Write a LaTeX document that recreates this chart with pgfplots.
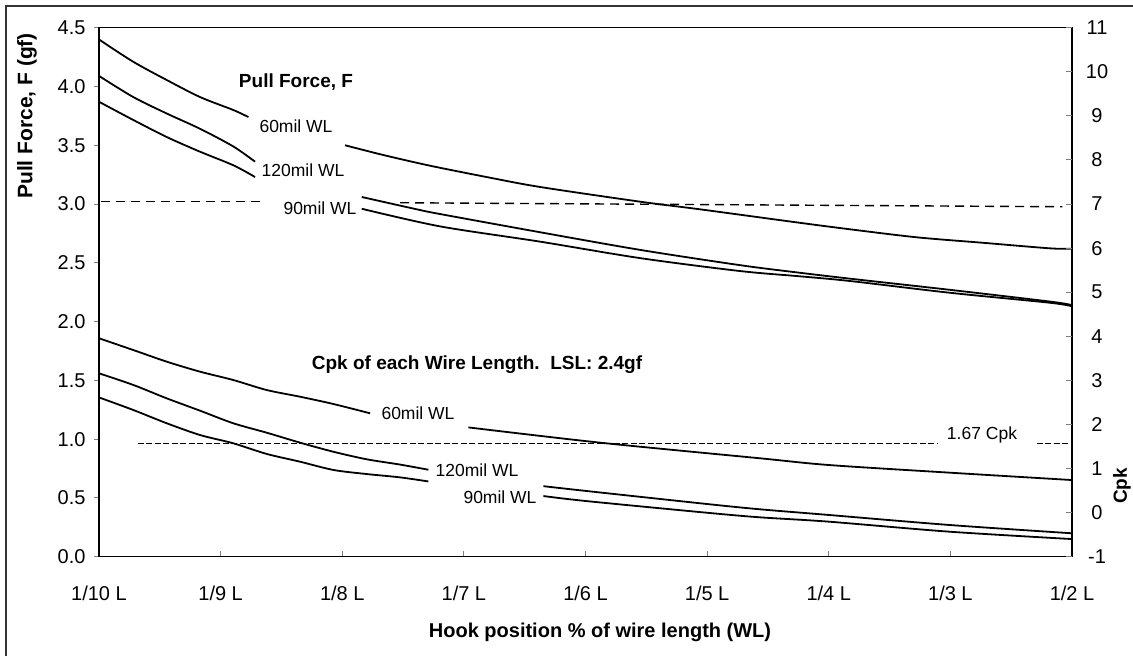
\documentclass[border=0pt]{standalone}
\usepackage{pgfplots}
\pgfplotsset{compat=1.18}
\usepackage{fontspec}
\setmainfont{Liberation Sans}
\newcommand{\tickfont}{\fontsize{20}{24}\selectfont}
\newcommand{\annfont}{\fontsize{17.5}{21}\selectfont}
\newcommand{\labfont}{\fontsize{19}{23}\selectfont\bfseries}
\newcommand{\xlabfont}{\fontsize{20}{24}\selectfont\bfseries}
\newcommand{\ylabfont}{\fontsize{21}{25}\selectfont\bfseries}
\tikzset{curve/.style={black, line width=1.8pt, mark=none, smooth, tension=0.5}}
\begin{document}
\begin{tikzpicture}
\useasboundingbox (0pt,0pt) rectangle (1133pt,-656pt);
\fill[white] (0pt,0pt) rectangle (1133pt,-656pt);
\draw[line width=1.5pt, black!80] (6pt,-700pt) -- (6pt,-6pt) -- (1200pt,-6pt);

% ---------- left axis: pull force ----------
\begin{axis}[
  scale only axis, width=973pt, height=529pt,
  at={(99pt,-556.7pt)}, anchor=south west,
  xmin=0, xmax=8, ymin=0, ymax=4.5,
  xtick={0,1,2,3,4,5,6,7,8},
  xticklabels={1/10 L,1/9 L,1/8 L,1/7 L,1/6 L,1/5 L,1/4 L,1/3 L,1/2 L},
  ytick={0,0.5,1,1.5,2,2.5,3,3.5,4,4.5},
  xtick pos=bottom, ytick pos=left,
  tick align=inside, major tick length=6pt,
  ytick style={xshift=-5pt, line width=1pt},
  xtick style={line width=1pt},
  tick label style={font=\tickfont},
  yticklabel style={/pgf/number format/fixed, /pgf/number format/fixed zerofill, /pgf/number format/precision=1, /pgf/number format/assume math mode=true, xshift=-10pt},
  xticklabel style={anchor=base, yshift=-43.3pt},
  axis line style={line width=1.2pt},
]
% 60mil WL
\addplot[curve] coordinates {(0,4.40) (0.282,4.21) (0.557,4.055) (0.831,3.91) (1.104,3.80) (1.228,3.74)};
\addplot[curve] coordinates {(2.023,3.50) (2.338,3.417) (2.722,3.326) (3.215,3.224) (3.627,3.145) (4.449,3.02) (4.942,2.955) (5.765,2.84) (6.176,2.785) (6.724,2.717) (7.272,2.67) (7.821,2.623) (8,2.62)};
% 120mil WL
\addplot[curve] coordinates {(0,4.09) (0.282,3.91) (0.557,3.77) (0.831,3.64) (1.104,3.49) (1.283,3.36)};
\addplot[curve] coordinates {(2.16,3.06) (2.613,2.955) (2.804,2.915) (3.627,2.76) (4.449,2.61) (5.271,2.48) (5.765,2.415) (6.176,2.365) (6.998,2.27) (7.821,2.17) (8,2.14)};
% 90mil WL
\addplot[curve] coordinates {(0,3.87) (0.282,3.715) (0.557,3.57) (0.831,3.445) (1.104,3.33) (1.283,3.23)};
\addplot[curve] coordinates {(2.16,2.96) (2.804,2.81) (3.627,2.68) (4.449,2.54) (5.271,2.43) (5.765,2.385) (6.176,2.345) (6.998,2.245) (7.821,2.16) (8,2.13)};
% reference line
\addplot[black, mark=none, line width=1.4pt, dash pattern=on 9pt off 6pt] coordinates {(0.02,3.02) (1.32,3.02)};
\addplot[black, mark=none, line width=1.4pt, dash pattern=on 9pt off 6pt] coordinates {(2.475,3.011) (7.92,2.977)};
\end{axis}

% ---------- right axis: Cpk ----------
\begin{axis}[
  scale only axis, width=973pt, height=529pt,
  at={(99pt,-556.7pt)}, anchor=south west,
  xmin=0, xmax=8, ymin=-1, ymax=11,
  xtick=\empty,
  ytick={-1,0,1,2,3,4,5,6,7,8,9,10,11},
  ytick pos=right, tick align=inside, major tick length=6pt,
  ytick style={line width=1pt},
  axis line style={draw=none},
  tick label style={font=\tickfont},
  yticklabel style={/pgf/number format/assume math mode=true, anchor=center, xshift=25pt},
]
% 60mil WL
\addplot[curve] coordinates {(0,3.955) (0.282,3.688) (0.557,3.424) (0.831,3.197) (1.104,3.008) (1.379,2.781) (1.653,2.629) (1.927,2.464) (2.229,2.253)};
\addplot[curve] coordinates {(3.037,1.933) (4.12,1.587) (5.436,1.232) (6.0,1.08) (6.99,0.907) (8,0.739)};
% 120mil WL
\addplot[curve] coordinates {(0,3.16) (0.282,2.896) (0.557,2.592) (0.831,2.312) (1.104,2.027) (1.379,1.813) (1.653,1.587) (1.927,1.381) (2.201,1.21) (2.475,1.09) (2.708,0.973)};
\addplot[curve] coordinates {(3.654,0.60) (4,0.493) (5,0.195) (5.436,0.075) (6,-0.053) (6.99,-0.28) (8,-0.469)};
% 90mil WL
\addplot[curve] coordinates {(0,2.613) (0.282,2.328) (0.557,2.027) (0.831,1.76) (1.104,1.573) (1.379,1.331) (1.653,1.155) (1.927,0.968) (2.201,0.875) (2.475,0.80) (2.708,0.707)};
\addplot[curve] coordinates {(3.654,0.376) (4,0.264) (5,-0.003) (5.436,-0.107) (6,-0.205) (6.99,-0.432) (8,-0.60)};
% 1.67 Cpk line
\addplot[black, mark=none, line width=1pt, dash pattern=on 6pt off 2.5pt] coordinates {(0.32,1.573) (6.90,1.573)};
\addplot[black, mark=none, line width=1pt, dash pattern=on 6pt off 2.5pt] coordinates {(7.71,1.573) (8,1.573)};
\end{axis}

% ---------- texts ----------
\node[font=\labfont] at (296pt,-81.7pt) {Pull Force, F};
\node[font=\annfont] at (296pt,-126.7pt) {60mil WL};
\node[font=\annfont] at (303pt,-170pt) {120mil WL};
\node[font=\annfont] at (320pt,-208.3pt) {90mil WL};
\node[font=\labfont] at (477pt,-365pt) {Cpk of each Wire Length.\ \ LSL: 2.4gf};
\node[font=\annfont] at (418pt,-413pt) {60mil WL};
\node[font=\annfont] at (477pt,-470pt) {120mil WL};
\node[font=\annfont] at (500pt,-497.7pt) {90mil WL};
\node[font=\annfont] at (982pt,-435pt) {1.67 Cpk};
\node[font=\ylabfont, rotate=90] at (27pt,-116pt) {Pull Force, F (gf)};
\node[font=\labfont, rotate=90] at (1122pt,-486pt) {Cpk};
\node[font=\xlabfont, anchor=base] at (600pt,-637pt) {Hook position \% of wire length (WL)};
\end{tikzpicture}
\end{document}
